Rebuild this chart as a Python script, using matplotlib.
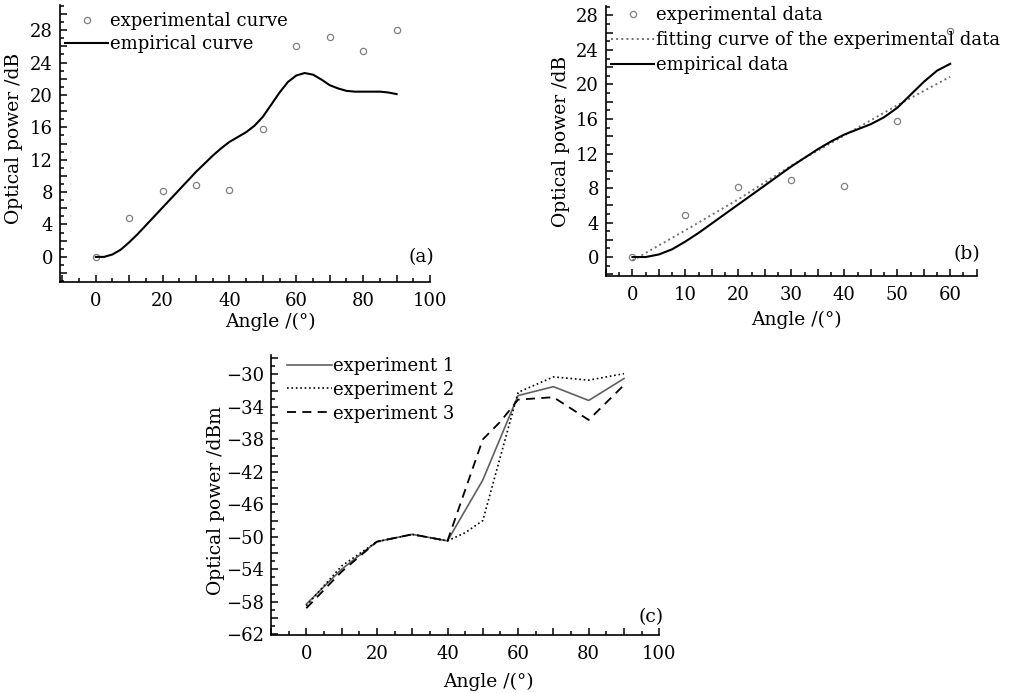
import matplotlib
matplotlib.use("Agg")
import matplotlib.pyplot as plt
from matplotlib.ticker import MultipleLocator, FuncFormatter

plt.rcParams['font.family'] = ['DejaVu Serif']
plt.rcParams['mathtext.fontset'] = 'dejavuserif'

# ---- data ----
exp_angles_a = [0, 10, 20, 30, 40, 50, 60, 70, 80, 90]
exp_power_a = [0.0, 4.75, 8.1, 8.9, 8.2, 15.8, 26.05, 27.1, 25.4, 28.05]

emp_angles = [0, 2.5, 5, 7.5, 10, 12.5, 15, 17.5, 20, 22.5, 25, 27.5, 30, 32.5, 35,
              37.5, 40, 42.5, 45, 47.5, 50, 52.5, 55, 57.5, 60, 62.5, 65, 67.5,
              70, 72.5, 75, 77.5, 80, 82.5, 85, 87.5, 90]
emp_power = [0.0, 0.0, 0.3, 0.9, 1.8, 2.8, 3.9, 5.0, 6.1, 7.2, 8.3, 9.4, 10.5, 11.5,
             12.5, 13.4, 14.2, 14.8, 15.4, 16.2, 17.3, 18.8, 20.3, 21.6, 22.4, 22.7,
             22.5, 21.9, 21.2, 20.8, 20.5, 20.4, 20.4, 20.4, 20.4, 20.3, 20.1]

exp_angles_b = [0, 10, 20, 30, 40, 50, 60]
exp_power_b = [0.0, 4.85, 8.15, 8.9, 8.25, 15.8, 26.2]
fit_angles_b = [0, 10, 20, 30, 40, 50, 60]
fit_power_b = [-0.4, 3.1, 6.7, 10.6, 14.1, 17.6, 20.9]

exp1_x = [0, 10, 20, 30, 40, 50, 60, 70, 80, 90]
exp1_y = [-58.3, -54.0, -50.6, -49.7, -50.5, -43.0, -32.6, -31.5, -33.2, -30.5]
exp2_x = [0, 10, 20, 30, 40, 45, 50, 60, 70, 80, 90]
exp2_y = [-58.5, -53.6, -50.6, -49.7, -50.5, -49.5, -48.0, -32.2, -30.3, -30.7, -29.9]
exp3_x = [0, 10, 20, 30, 40, 50, 55, 60, 70, 80, 90]
exp3_y = [-58.8, -54.3, -50.6, -49.7, -50.5, -38.0, -35.8, -33.1, -32.8, -35.6, -31.3]

W, H = 1013, 693
fig = plt.figure(figsize=(W / 100, H / 100), dpi=100)

FS_TICK = 13
FS_LAB = 13.5
FS_LEG = 13


def px_axes(l, r, t, b):
    return fig.add_axes([l / W, 1 - b / H, (r - l) / W, (b - t) / H])


def style(ax, xmaj, xmin, xlab_step, ymaj, ymin, ylab_step, ylab_off=0):
    for s in ('top', 'right'):
        ax.spines[s].set_visible(False)
    for s in ('left', 'bottom'):
        ax.spines[s].set_linewidth(1.2)
    ax.xaxis.set_major_locator(MultipleLocator(xmaj))
    ax.xaxis.set_minor_locator(MultipleLocator(xmin))
    ax.yaxis.set_major_locator(MultipleLocator(ymaj))
    ax.yaxis.set_minor_locator(MultipleLocator(ymin))

    def fx(v, p):
        r = round(v)
        return str(r).replace('-', '\u2212') if abs(v - r) < 1e-6 and r % xlab_step == 0 else ''

    def fy(v, p):
        r = round(v)
        return str(r).replace('-', '\u2212') if abs(v - r) < 1e-6 and (r - ylab_off) % ylab_step == 0 else ''

    ax.xaxis.set_major_formatter(FuncFormatter(fx))
    ax.yaxis.set_major_formatter(FuncFormatter(fy))
    ax.tick_params(which='major', direction='in', length=5, width=1.1, labelsize=FS_TICK,
                   top=False, right=False)
    ax.tick_params(which='minor', direction='in', length=3, width=1.1, top=False, right=False)
    ax.tick_params(axis='x', which='major', pad=7)
    ax.tick_params(axis='y', which='major', pad=5)


# ---- (a) ----
axa = px_axes(60, 430, 5, 282)
axa.plot(exp_angles_a, exp_power_a, linestyle='none', marker='o', markersize=4.5,
         markerfacecolor='none', markeredgecolor='#808080', markeredgewidth=0.9,
         label='experimental curve')
axa.plot(emp_angles, emp_power, color='black', linewidth=1.5, label='empirical curve')
axa.set_xlim(-10.7, 100)
axa.set_ylim(-3.1, 31.1)
style(axa, 10, 5, 20, 2, 1, 4)
axa.set_xlabel('Angle /(°)', fontsize=FS_LAB)
axa.set_ylabel('Optical power /dB', fontsize=FS_LAB)
axa.xaxis.set_label_coords(0.568, -0.11)
axa.yaxis.set_label_coords(-0.1, 0.52)
axa.text(1.012, 0.09, '(a)', transform=axa.transAxes, ha='right', va='center', fontsize=FS_LAB)
axa.legend(loc='upper left', bbox_to_anchor=(65 / W, 1 - 12 / H), bbox_transform=fig.transFigure,
           frameon=False, fontsize=FS_LEG, handlelength=2.4, handletextpad=0.1,
           labelspacing=0.3, borderpad=0, borderaxespad=0)

# ---- (b) ----
axb = px_axes(606, 976.7, 6, 276)
axb.plot(exp_angles_b, exp_power_b, linestyle='none', marker='o', markersize=4.5,
         markerfacecolor='none', markeredgecolor='#808080', markeredgewidth=0.9,
         label='experimental data')
axb.plot(fit_angles_b, fit_power_b, color='#707070', linestyle=':', linewidth=1.4,
         label='fitting curve of the experimental data')
n60 = emp_angles.index(60) + 1
axb.plot(emp_angles[:n60], emp_power[:n60], color='black', linewidth=1.5, label='empirical data')
axb.set_xlim(-5, 65)
axb.set_ylim(-2.2, 29.1)
style(axb, 5, 2.5, 10, 2, 1, 4)
axb.set_xlabel('Angle /(°)', fontsize=FS_LAB)
axb.set_ylabel('Optical power /dB', fontsize=FS_LAB)
axb.xaxis.set_label_coords(0.513, -0.13)
axb.yaxis.set_label_coords(-0.097, 0.5)
axb.text(1.01, 0.08, '(b)', transform=axb.transAxes, ha='right', va='center', fontsize=FS_LAB)
axb.legend(loc='upper left', bbox_to_anchor=(611 / W, 1 - 6 / H), bbox_transform=fig.transFigure,
           frameon=False, fontsize=FS_LEG, handlelength=2.4, handletextpad=0.1,
           labelspacing=0.4, borderpad=0, borderaxespad=0)

# ---- (c) ----
axc = px_axes(271, 659.3, 355, 635)
axc.plot(exp1_x, exp1_y, color='#606060', linewidth=1.2, linestyle='-', label='experiment 1')
axc.plot(exp2_x, exp2_y, color='black', linewidth=1.2, linestyle=':', label='experiment 2')
axc.plot(exp3_x, exp3_y, color='black', linewidth=1.3, linestyle=(0, (5, 3.5)), label='experiment 3')
axc.set_xlim(-10, 100)
axc.set_ylim(-62.1, -27.6)
style(axc, 10, 5, 20, 2, 1, 4, ylab_off=2)
axc.set_xlabel('Angle /(°)', fontsize=FS_LAB)
axc.set_ylabel('Optical power /dBm', fontsize=FS_LAB)
axc.xaxis.set_label_coords(0.559, -0.135)
axc.yaxis.set_label_coords(-0.118, 0.48)
axc.text(1.01, 0.065, '(c)', transform=axc.transAxes, ha='right', va='center', fontsize=FS_LAB)
axc.legend(loc='upper left', bbox_to_anchor=(287 / W, 1 - 357 / H), bbox_transform=fig.transFigure,
           frameon=False, fontsize=FS_LEG, handlelength=2.5, handletextpad=0.05,
           labelspacing=0.32, borderpad=0, borderaxespad=0)

fig.savefig('out.png', dpi=100, facecolor='white')
